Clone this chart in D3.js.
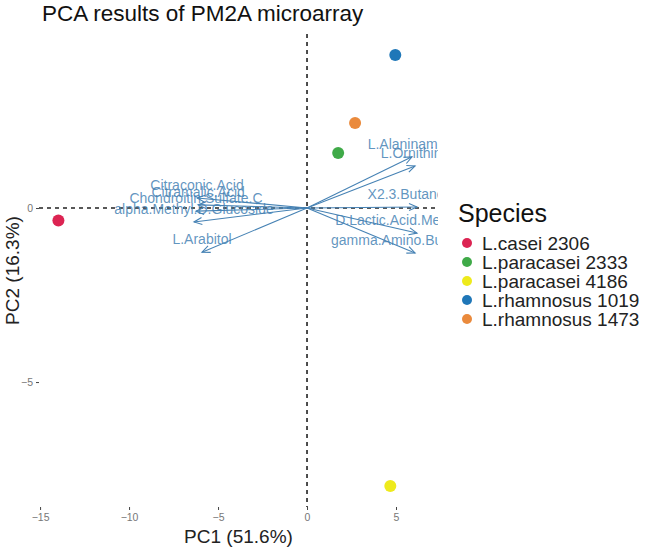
<!DOCTYPE html>
<html>
<head>
<meta charset="utf-8">
<script src="https://cdn.jsdelivr.net/npm/d3@7"></script>
<style>
    body { margin: 0; background: #fff; }
    svg { display: block; font-family: "Liberation Sans", Arial, sans-serif; }
</style>
</head>
<body>
<svg id="chart"></svg>
<script>

// samples (PC scores)
const species = ["L.casei 2306", "L.paracasei 2333", "L.paracasei 4186", "L.rhamnosus 1019", "L.rhamnosus 1473"]
const pc1 = [-13.97, 1.75, 4.68, 4.96, 2.70]
const pc2 = [-0.36, 1.58, -7.99, 4.40, 2.44]
const speciesColors = ["#dc2452", "#3faa48", "#eeea1c", "#1f77b8", "#ea8a3c"]

// variable loadings (arrow tips)
const varNames = ["L.Alaninamide", "L.Ornithine", "X2.3.Butanediol", "D.Lactic.Acid.Methyl.Ester", "gamma.Amino.Butyric.Acid",
    "Citraconic.Acid", "Citramalic.Acid", "Chondroitin.Sulfate.C", "alpha.Methyl.D.Glucoside", "L.Arabitol"]
const varX = [5.90, 6.07, 6.18, 6.18, 6.07, -6.18, -6.12, -6.24, -6.35, -5.90]
const varY = [1.47, 1.21, 0.03, -0.72, -1.29, 0.29, 0.09, -0.09, -0.40, -1.27]

const xTicks = [-15, -10, -5, 0, 5]
const yTicks = [-5, 0]

const w = 646
const h = 548
const panel = { left: 39, right: 438, top: 34, bottom: 507 }
const arrowColor = "steelblue"

const svg = d3.select("#chart")
    .attr("width", w)
    .attr("height", h)

const xScale = d3.scaleLinear()
    .domain([-15.06, 7.36])
    .range([panel.left, panel.right])

const yScale = d3.scaleLinear()
    .domain([-8.59, 5.0])
    .range([panel.bottom, panel.top])

// clip to the panel
svg.append("defs").append("clipPath")
    .attr("id", "panel-clip")
    .append("rect")
    .attr("x", panel.left)
    .attr("y", panel.top)
    .attr("width", panel.right - panel.left)
    .attr("height", panel.bottom - panel.top)

svg.select("defs").append("marker")
    .attr("id", "arrow")
    .attr("viewBox", "-10 -6 12 12")
    .attr("refX", 0)
    .attr("refY", 0)
    .attr("markerWidth", 12)
    .attr("markerHeight", 12)
    .attr("markerUnits", "userSpaceOnUse")
    .attr("orient", "auto")
    .append("path")
    .attr("d", "M-8,-3.5L0,0L-8,3.5")
    .attr("fill", "none")
    .attr("stroke", arrowColor)
    .attr("stroke-width", 1.1)

//Title
svg.append("text")
    .attr("x", 42)
    .attr("y", 21)
    .attr("font-size", 22.5)
    .attr("fill", "#111")
    .text("PCA results of PM2A microarray")

//Axes ticks
const axisBottom = d3.axisBottom(xScale)
    .tickValues(xTicks)
    .tickSize(3)
    .tickPadding(4)

const axisLeft = d3.axisLeft(yScale)
    .tickValues(yTicks)
    .tickSize(3)
    .tickPadding(3)

const gx = svg.append("g")
    .attr("transform", `translate(0, ${panel.bottom})`)
    .call(axisBottom)

const gy = svg.append("g")
    .attr("transform", `translate(${panel.left}, 0)`)
    .call(axisLeft)

for (const g of [gx, gy]) {
    g.select(".domain").remove()
    g.selectAll(".tick line").attr("stroke", "#444")
    g.selectAll(".tick text")
        .attr("fill", "#777")
        .attr("font-size", 10.5)
        .attr("font-family", "Liberation Sans, Arial, sans-serif")
}

//Axis titles
svg.append("text")
    .attr("x", (panel.left + panel.right) / 2)
    .attr("y", 543)
    .attr("text-anchor", "middle")
    .attr("font-size", 19)
    .attr("fill", "#222")
    .text("PC1 (51.6%)")

svg.append("text")
    .attr("transform", `translate(19, ${(panel.top + panel.bottom) / 2}) rotate(-90)`)
    .attr("text-anchor", "middle")
    .attr("font-size", 19)
    .attr("fill", "#222")
    .text("PC2 (16.3%)")

const plot = svg.append("g")
    .attr("clip-path", "url(#panel-clip)")

//Dashed zero lines
plot.append("line")
    .attr("x1", panel.left)
    .attr("x2", panel.right)
    .attr("y1", yScale(0))
    .attr("y2", yScale(0))
    .attr("stroke", "#222")
    .attr("stroke-width", 1.6)
    .attr("stroke-dasharray", "4,4")

plot.append("line")
    .attr("x1", xScale(0))
    .attr("x2", xScale(0))
    .attr("y1", panel.top)
    .attr("y2", panel.bottom)
    .attr("stroke", "#222")
    .attr("stroke-width", 1.6)
    .attr("stroke-dasharray", "4,4")

//Loadings
const vars = varNames.map((name, i) => ({ name: name, x: varX[i], y: varY[i] }))

plot.selectAll(".var-arrow")
    .data(vars)
    .enter()
    .append("line")
    .attr("class", "var-arrow")
    .attr("x1", xScale(0))
    .attr("y1", yScale(0))
    .attr("x2", d => xScale(d.x))
    .attr("y2", d => yScale(d.y))
    .attr("stroke", arrowColor)
    .attr("stroke-width", 1.1)
    .attr("marker-end", "url(#arrow)")

plot.selectAll(".var-label")
    .data(vars)
    .enter()
    .append("text")
    .attr("class", "var-label")
    .attr("x", d => xScale(d.x))
    .attr("y", d => yScale(d.y) - 8)
    .attr("text-anchor", "middle")
    .attr("font-size", 14)
    .attr("fill", arrowColor)
    .attr("fill-opacity", 0.85)
    .text(d => d.name)

//Samples
const samples = species.map((s, i) => ({ species: s, x: pc1[i], y: pc2[i], color: speciesColors[i] }))

plot.selectAll(".sample")
    .data(samples)
    .enter()
    .append("circle")
    .attr("class", "sample")
    .attr("cx", d => xScale(d.x))
    .attr("cy", d => yScale(d.y))
    .attr("r", 6)
    .attr("fill", d => d.color)

//Legend
const legend = svg.append("g")
    .attr("transform", "translate(458, 0)")

legend.append("text")
    .attr("x", 0)
    .attr("y", 222)
    .attr("font-size", 25)
    .attr("fill", "#111")
    .text("Species")

legend.selectAll(".key")
    .data(samples)
    .enter()
    .append("circle")
    .attr("class", "key")
    .attr("cx", 9)
    .attr("cy", (d, i) => 243 + i * 19)
    .attr("r", 5)
    .attr("fill", d => d.color)

legend.selectAll(".key-label")
    .data(samples)
    .enter()
    .append("text")
    .attr("class", "key-label")
    .attr("x", 24)
    .attr("y", (d, i) => 243 + i * 19 + 6.5)
    .attr("font-size", 19)
    .attr("fill", "#222")
    .text(d => d.species)

</script>
</body>
</html>
